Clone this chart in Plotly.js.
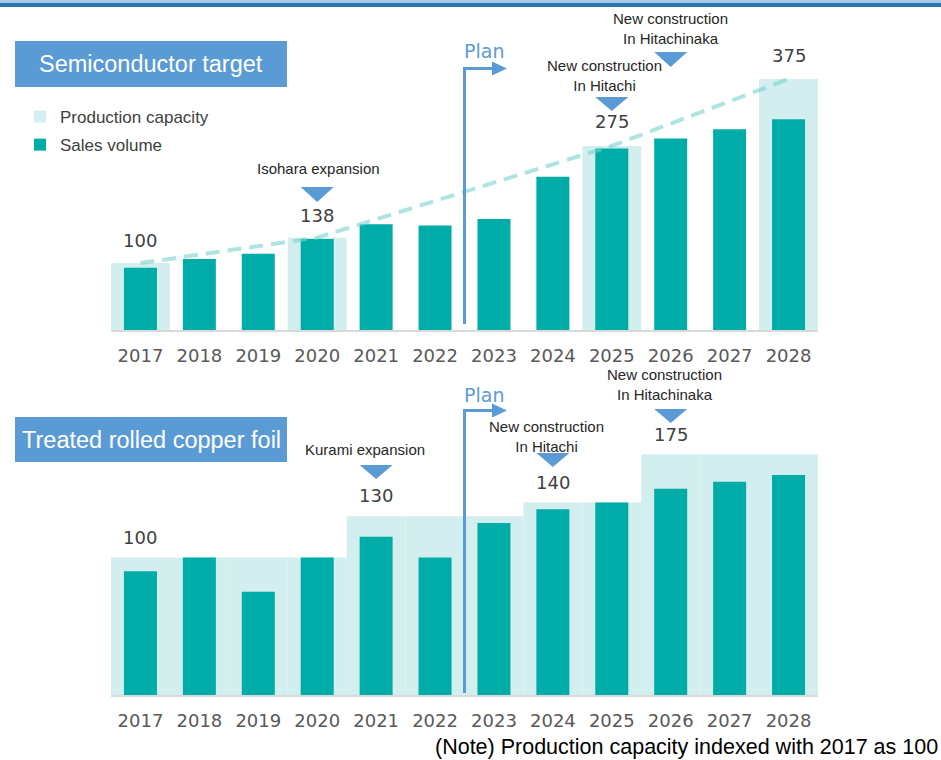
<!DOCTYPE html>
<html>
<head>
<meta charset="utf-8">
<script src="https://cdn.plot.ly/plotly-3.0.1.min.js"></script>
<style>html,body{margin:0;padding:0;background:#fff;}#chart{width:941px;height:760px;}</style>
</head>
<body>
<div id="chart"></div>
<script>
// ---------- data ----------
const years = [2017, 2018, 2019, 2020, 2021, 2022, 2023, 2024, 2025, 2026, 2027, 2028];
const yearLabels = ['2017','2018','2019','2020','2021','2022','2023','2024','2025','2026','2027','2028'];

const semiCapacity = [100, null, null, 138, null, null, null, null, 275, null, null, 375];
const semiSales    = [93, 106, 114, 136, 158, 156, 166, 229, 271, 286, 300, 315];
const semiTrendYears  = [2017, 2020, 2025, 2028];
const semiTrendValues = [100, 138, 275, 375];

const foilCapacity = [100, 100, 100, 100, 130, 130, 130, 140, 140, 175, 175, 175];
const foilSales    = [90, 100, 75, 100, 115, 100, 125, 135, 140, 150, 155, 160];

const semiCapLabels = [[2017, '100'], [2020, '138'], [2025, '275'], [2028, '375']];
const foilCapLabels = [[2017, '100'], [2021, '130'], [2024, '140'], [2026, '175']];

// ---------- helpers ----------
const W = 941, H = 760;
const PX = x => x / W;
const PY = y => 1 - y / H;
const CAP = '#d2eeee', SALES = '#00aca7', BLUE = '#5b9bd5';
const ARIAL = 'Liberation Sans, Arial, sans-serif';
const VERD = 'DejaVu Sans, Verdana, sans-serif';

const traces = [
  {type: 'bar', x: years, y: semiCapacity, width: years.map(() => 1), name: 'Production capacity',
   marker: {color: CAP}, xaxis: 'x', yaxis: 'y', legendgroup: 'a', hoverinfo: 'skip'},
  {type: 'bar', x: years, y: semiSales, width: years.map(() => 0.56), name: 'Sales volume',
   marker: {color: SALES}, xaxis: 'x', yaxis: 'y', legendgroup: 'b', hoverinfo: 'skip'},
  {type: 'scatter', mode: 'lines', x: semiTrendYears, y: semiTrendValues, showlegend: false,
   line: {color: 'rgba(120,210,205,0.6)', width: 4, dash: '14px,8px'}, xaxis: 'x', yaxis: 'y', hoverinfo: 'skip'},
  {type: 'bar', x: years, y: foilCapacity, width: years.map(() => 1), showlegend: false,
   marker: {color: CAP}, xaxis: 'x2', yaxis: 'y2', hoverinfo: 'skip'},
  {type: 'bar', x: years, y: foilSales, width: years.map(() => 0.56), showlegend: false,
   marker: {color: SALES}, xaxis: 'x2', yaxis: 'y2', hoverinfo: 'skip'}
];

const xCommon = {
  range: [2016.5, 2028.5], domain: [PX(111), PX(818)],
  tickvals: years, ticktext: yearLabels, ticks: '', showgrid: false, zeroline: false,
  showline: true, linecolor: '#d9d9d9', linewidth: 2,
  tickfont: {family: VERD, size: 18, color: '#595959'}, ticklabelstandoff: 8, fixedrange: true
};
const yCommon = {showgrid: false, zeroline: false, showticklabels: false, showline: false, fixedrange: true};

const shapes = [];
const annotations = [];

// top border
shapes.push({type: 'rect', xref: 'paper', yref: 'paper', x0: 0, x1: 1, y0: PY(0), y1: PY(3), fillcolor: '#a9c9ea', line: {width: 0}});
shapes.push({type: 'rect', xref: 'paper', yref: 'paper', x0: 0, x1: 1, y0: PY(3), y1: PY(7), fillcolor: '#2e75b6', line: {width: 0}});

// title boxes
function titleBox(text, top, bottom) {
  shapes.push({type: 'rect', xref: 'paper', yref: 'paper', x0: PX(15), x1: PX(287), y0: PY(bottom), y1: PY(top),
               fillcolor: BLUE, line: {width: 0}, layer: 'below'});
  annotations.push({xref: 'paper', yref: 'paper', x: PX(151), y: PY((top + bottom) / 2), text: text, showarrow: false,
                    xanchor: 'center', yanchor: 'middle', font: {family: ARIAL, size: 23.5, color: '#ffffff'}});
}
titleBox('Semiconductor target', 41, 87);
titleBox('Treated rolled copper foil', 417, 462);

// triangles (down) at a year, with pixel top/bottom
function tri(xref, yr, top, bottom) {
  const hw = 0.28;
  shapes.push({type: 'path', xref: xref, yref: 'paper',
    path: `M ${yr - hw},${PY(top)} L ${yr + hw},${PY(top)} L ${yr},${PY(bottom)} Z`,
    fillcolor: BLUE, line: {width: 0}});
}
function note(xref, yr, y, text, xshift) {
  annotations.push({xref: xref, yref: 'paper', x: yr, y: PY(y), text: text, showarrow: false,
    xanchor: 'center', yanchor: 'middle', xshift: xshift || 0,
    font: {family: ARIAL, size: 15, color: '#262626'}});
}
function value(xref, yr, y, text) {
  annotations.push({xref: xref, yref: 'paper', x: yr, y: PY(y), text: text, showarrow: false,
    xanchor: 'center', yanchor: 'middle', font: {family: VERD, size: 18, color: '#404040'}});
}

// plan arrows
function plan(xref, yBottom, yArrow, yText) {
  shapes.push({type: 'line', xref: xref, yref: 'paper', x0: 2022.5, x1: 2022.5, y0: PY(yBottom), y1: PY(yArrow),
               line: {color: BLUE, width: 3}});
  shapes.push({type: 'line', xref: 'paper', yref: 'paper', x0: PX(463), x1: PX(495), y0: PY(yArrow), y1: PY(yArrow),
               line: {color: BLUE, width: 3}});
  shapes.push({type: 'path', xref: 'paper', yref: 'paper',
    path: `M ${PX(492)},${PY(yArrow - 7)} L ${PX(507)},${PY(yArrow)} L ${PX(492)},${PY(yArrow + 7)} Z`,
    fillcolor: BLUE, line: {width: 0}});
  annotations.push({xref: 'paper', yref: 'paper', x: PX(462), y: PY(yText), text: 'Plan', showarrow: false,
    xanchor: 'left', yanchor: 'middle', font: {family: VERD, size: 19, color: BLUE}});
}
plan('x', 324, 68.5, 51);
plan('x2', 693, 410.5, 395);

// top annotations
tri('x', 2020, 187, 202);
note('x', 2020, 169, 'Isohara expansion', 1);
tri('x', 2025, 97, 111);
note('x', 2025, 76, 'New construction<br>In Hitachi', -7);
tri('x', 2026, 52, 67);
note('x', 2026, 28, 'New construction<br>In Hitachinaka', 0);
const semiY = {2017: 240, 2020: 215, 2025: 122, 2028: 55};
semiCapLabels.forEach(([yr, t]) => value('x', yr, semiY[yr], t));

// bottom annotations
tri('x2', 2021, 465, 479);
note('x2', 2021, 449, 'Kurami expansion', -11);
tri('x2', 2024, 453, 467);
note('x2', 2024, 436, 'New construction<br>In Hitachi', -6);
tri('x2', 2026, 409, 423);
note('x2', 2026, 384.5, 'New construction<br>In Hitachinaka', -6);
const foilY = {2017: 537, 2021: 495, 2024: 482, 2026: 434};
foilCapLabels.forEach(([yr, t]) => value('x2', yr, foilY[yr], t));

// footnote
annotations.push({xref: 'paper', yref: 'paper', x: PX(940), y: PY(747), text: '(Note) Production capacity indexed with 2017 as 100',
  showarrow: false, xanchor: 'right', yanchor: 'middle', font: {family: ARIAL, size: 21.5, color: '#000000'}});

const layout = {
  width: W, height: H, margin: {l: 0, r: 0, t: 0, b: 0},
  paper_bgcolor: '#ffffff', plot_bgcolor: 'rgba(0,0,0,0)',
  barmode: 'overlay', showlegend: true,
  legend: {x: PX(20), y: PY(99), xanchor: 'left', yanchor: 'top', bgcolor: 'rgba(0,0,0,0)',
           font: {family: ARIAL, size: 17, color: '#404040'}, tracegroupgap: 3, traceorder: 'grouped'},
  xaxis: Object.assign({}, xCommon, {anchor: 'y'}),
  yaxis: Object.assign({}, yCommon, {domain: [PY(330), PY(28.8)], range: [0, 450], anchor: 'x'}),
  xaxis2: Object.assign({}, xCommon, {anchor: 'y2'}),
  yaxis2: Object.assign({}, yCommon, {domain: [PY(695), PY(420)], range: [0, 200], anchor: 'x2'}),
  shapes: shapes, annotations: annotations
};

Plotly.newPlot('chart', traces, layout, {displayModeBar: false, staticPlot: true});
</script>
</body>
</html>
